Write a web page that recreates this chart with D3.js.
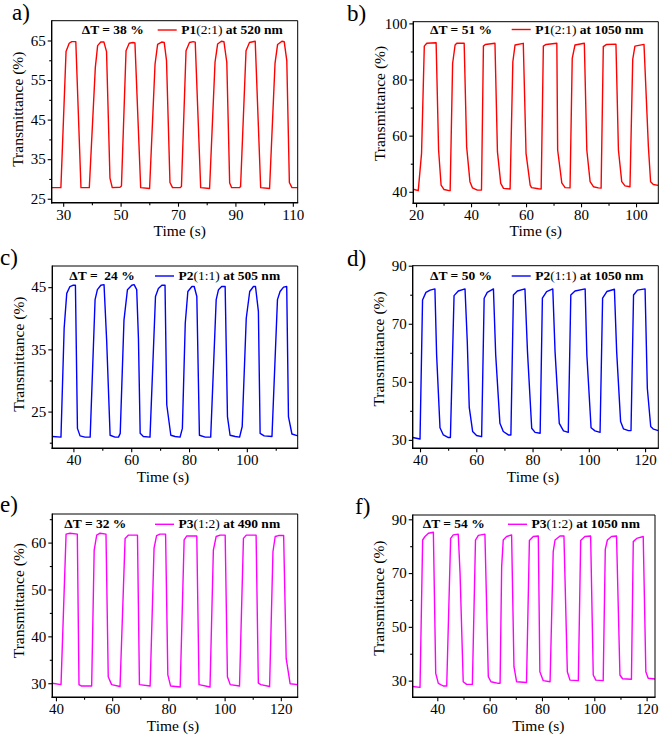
<!DOCTYPE html>
<html><head><meta charset="utf-8">
<script src="https://cdn.jsdelivr.net/npm/d3@7"></script>
<style>
body{margin:0;background:#fff}
svg{display:block}
svg text{font-family:"Liberation Serif","DejaVu Serif","Times New Roman",serif !important;fill:#000}
</style>
</head><body>
<svg id="chart" width="661" height="737"></svg>
<script>
// ---------- DATA (time s, transmittance %) ----------
const seriesA = [[26,27.8],[29.2,27.8],[31.0,62.2],[32.1,64.3],[33.0,64.7],[34.4,64.7],[36.2,27.8],[39.1,27.8],[41.2,58.2],[42.0,63.7],[43.1,64.6],[44.2,64.6],[45.1,62.2],[46.3,30.2],[47.1,27.8],[49.8,27.9],[50.3,28.2],[51.9,62.4],[53.0,64.3],[54.3,64.5],[55.0,64.4],[57.0,27.8],[60.1,27.6],[62.0,59.0],[62.9,64.0],[64.3,64.6],[65.2,64.5],[66.0,59.9],[67.2,29.1],[68.1,27.8],[70.7,27.8],[71.2,28.1],[72.8,62.4],[74.0,64.5],[75.3,64.7],[76.0,64.6],[77.9,27.8],[81.0,27.6],[82.9,59.5],[83.8,64.1],[85.1,64.8],[86.0,64.7],[87.0,59.5],[88.0,29.0],[88.7,27.8],[91.4,27.8],[91.8,28.1],[93.7,62.4],[94.9,64.5],[96.9,64.8],[98.8,27.8],[101.9,27.6],[103.8,59.2],[104.7,64.0],[106.2,64.8],[107.0,64.7],[107.9,59.9],[108.8,29.1],[109.7,27.8],[111.7,27.8]];
const seriesB = [[19,40.9],[20.8,40.4],[22.0,53.7],[23.0,91.9],[23.9,92.9],[27.3,93.1],[28.2,54.9],[29.1,42.4],[30.2,40.8],[32.0,40.4],[32.4,40.4],[33.3,85.7],[34.2,92.3],[34.8,92.9],[37.5,92.9],[38.4,56.0],[39.6,43.6],[40.5,41.4],[42.3,40.6],[43.8,40.6],[44.5,91.9],[45.2,92.5],[48.7,92.9],[49.6,54.3],[50.8,43.0],[51.8,41.2],[54.2,41.0],[55.2,86.3],[56.0,92.3],[59.0,92.9],[60.0,53.7],[61.5,42.4],[62.0,41.5],[64.5,41.1],[65.5,41.0],[66.3,91.9],[67.3,92.5],[71.2,92.9],[71.5,54.9],[73.0,43.2],[74.2,41.5],[76.0,41.4],[76.8,87.5],[77.8,92.3],[81.2,92.9],[82.1,54.9],[83.3,43.6],[84.5,41.8],[86.3,41.4],[87.3,41.3],[88.1,91.7],[89.3,92.5],[92.7,92.6],[93.6,54.9],[94.8,43.6],[96.0,42.1],[97.8,41.8],[98.8,87.2],[99.6,91.9],[102.9,92.5],[104.5,56.0],[105.3,43.6],[106.3,42.6],[108.1,42.3]];
const seriesC = [[32.7,21.0],[35.7,20.9],[36.8,38.4],[37.7,44.0],[38.8,45.1],[39.8,45.3],[40.7,45.3],[41.4,22.3],[42.3,21.1],[44.0,20.9],[45.8,20.9],[47.5,43.0],[48.3,44.6],[49.5,45.3],[50.6,45.4],[51.5,36.5],[52.7,21.2],[54.4,20.9],[55.6,20.9],[56.2,21.5],[57.5,39.7],[58.7,44.6],[60.2,45.3],[61.0,45.4],[61.9,44.6],[62.5,36.8],[63.1,21.5],[64.2,21.0],[66.5,20.9],[68.4,43.5],[69.4,44.8],[70.6,45.3],[71.7,45.3],[72.3,26.1],[73.7,21.2],[75.2,21.0],[76.9,20.9],[77.7,22.3],[78.7,39.2],[79.6,44.3],[81.0,45.1],[81.8,45.1],[82.7,43.5],[83.6,21.2],[85.6,20.9],[87.5,20.9],[89.4,43.0],[90.2,44.6],[91.3,45.1],[92.5,45.1],[93.3,24.2],[94.2,21.2],[96.0,21.0],[97.5,20.9],[98.4,22.6],[99.8,40.0],[101.0,44.3],[102.3,45.1],[103.0,45.1],[104.0,41.1],[104.6,21.5],[106.0,21.1],[108.7,21.0],[110.6,43.0],[111.5,44.3],[112.7,45.0],[113.8,45.1],[114.4,24.2],[115.6,21.4],[117.7,21.1]];
const seriesD = [[37.4,30.8],[40.0,30.3],[40.9,78.2],[42.1,80.8],[43.6,81.6],[45.3,82.0],[45.9,59.3],[47.1,34.2],[48.3,31.7],[50.1,30.8],[50.8,30.8],[52.1,79.7],[53.6,81.3],[56.0,82.0],[56.8,63.8],[57.5,41.2],[58.7,32.9],[60.1,31.5],[61.9,31.1],[62.8,78.8],[63.9,80.8],[66.1,82.0],[66.9,59.3],[68.4,35.7],[69.6,32.9],[71.4,31.7],[72.3,31.7],[73.2,79.9],[74.6,81.3],[77.3,82.0],[78.2,60.4],[79.7,34.0],[80.9,32.6],[82.7,32.3],[83.5,78.8],[85.0,81.1],[87.2,82.0],[88.0,60.4],[89.5,35.7],[91.0,33.1],[92.7,32.6],[93.6,79.9],[95.1,81.3],[98.7,82.0],[99.3,59.3],[100.8,34.2],[102.2,33.1],[104.0,32.6],[104.9,78.8],[106.4,81.1],[109.1,81.9],[109.9,60.4],[111.3,36.3],[112.3,33.8],[114.1,33.2],[115.0,33.2],[115.9,79.9],[117.3,81.6],[120.0,82.0],[120.8,47.8],[122.0,34.6],[123.0,33.7],[124.7,33.2]];
const seriesE = [[38.7,30.0],[41.8,29.7],[43.6,61.8],[45.0,62.0],[47.6,61.8],[48.2,29.7],[49.1,29.4],[52.7,29.4],[53.6,58.4],[54.5,61.6],[55.7,62.0],[57.8,61.8],[58.6,31.4],[59.8,29.7],[62.8,29.3],[64.6,60.9],[65.8,61.6],[69.0,61.6],[69.7,29.7],[73.5,29.4],[74.9,58.8],[75.8,61.5],[77.0,61.8],[79.0,61.8],[79.8,31.8],[80.8,29.4],[84.2,29.2],[85.6,60.6],[86.5,61.4],[90.1,61.4],[90.9,29.7],[94.8,29.2],[96.0,58.4],[97.0,61.3],[98.4,61.6],[100.2,61.6],[101.0,31.4],[102.0,29.7],[105.3,29.4],[106.7,60.9],[107.7,61.6],[111.2,61.6],[112.0,30.0],[112.9,29.7],[116.0,29.3],[117.2,58.1],[118.0,61.3],[119.2,61.5],[121.0,61.5],[121.9,35.3],[123.3,29.9],[126.0,29.7]];
const seriesF = [[30.6,27.8],[33.4,27.5],[34.4,82.3],[35.3,83.6],[36.6,84.8],[38.5,85.2],[39.4,32.7],[40.4,29.0],[42.3,28.0],[43.6,28.0],[45.1,82.9],[46.1,84.2],[48.0,84.5],[48.7,69.9],[49.9,29.6],[51.2,28.6],[53.4,28.6],[54.6,82.3],[55.7,84.0],[58.2,84.5],[59.5,31.5],[60.5,29.6],[63.3,29.0],[64.0,29.0],[64.6,72.4],[65.2,82.3],[66.5,83.6],[68.4,84.2],[69.3,35.2],[70.3,29.6],[74.1,29.3],[75.2,82.1],[76.7,83.6],[78.6,83.8],[79.2,33.3],[80.5,30.0],[83.1,29.6],[84.3,78.0],[85.0,82.3],[86.9,83.8],[88.4,83.8],[89.7,33.3],[90.7,30.2],[93.9,30.0],[94.8,82.1],[96.4,83.6],[98.6,83.8],[99.6,32.1],[100.6,30.2],[103.4,30.0],[104.2,78.8],[105.0,82.3],[106.6,83.6],[108.5,83.8],[109.8,32.1],[110.8,30.7],[114.2,30.5],[114.9,81.7],[116.2,82.9],[118.7,83.6],[119.7,33.3],[120.6,30.9],[123.2,30.6]];

const panelLetters = ["a)","b)","c)","d)","e)","f)"];
const deltaLabels = ["ΔT = 38 %","ΔT = 51 %","ΔT =  24 %","ΔT = 50 %","ΔT = 32 %","ΔT = 54 %"];
const sampleNames = [["P1","(2:1)"," at 520 nm"],["P1","(2:1)"," at 1050 nm"],["P2","(1:1)"," at 505 nm"],["P2","(1:1)"," at 1050 nm"],["P3","(1:2)"," at 490 nm"],["P3","(1:2)"," at 1050 nm"]];

const xTicksA = [30,50,70,90,110],   xMinorA = [40,60,80,100];
const yTicksA = [25,35,45,55,65],    yMinorA = [30,40,50,60];
const xTicksB = [20,40,60,80,100],   xMinorB = [30,50,70,90];
const yTicksB = [40,60,80,100],      yMinorB = [50,70,90];
const xTicksC = [40,60,80,100],      xMinorC = [50,70,90,110];
const yTicksC = [25,35,45],          yMinorC = [20,30,40];
const xTicksD = [40,60,80,100,120],  xMinorD = [50,70,90,110];
const yTicksD = [30,50,70,90],       yMinorD = [40,60,80];
const xTicksE = [40,60,80,100,120],  xMinorE = [50,70,90,110];
const yTicksE = [30,40,50,60],       yMinorE = [35,45,55,65];
const xTicksF = [40,60,80,100,120],  xMinorF = [50,70,90,110];
const yTicksF = [30,50,70,90],       yMinorF = [40,60,80];

const xDomains = [[26,111.7],[19,108.1],[32.7,117.6],[37.4,124.7],[38.7,126],[30.6,123.2]];
const yDomains = [[24,70],[35.9,100.6],[19.1,48.4],[27.1,90],[27,66.1],[23.8,91.6]];
const colors = ["#ff0000","#ff0000","#0000ff","#0000ff","#ff00ff","#ff00ff"];

// ---------- LAYOUT ----------
// box: [left, top, right, bottom]; title: [x offset from centre, baseline below bottom]; ylab: vertical shift
const panels = [
  {data:seriesA, box:[51.7,20.7,297.7,202.7], xt:xTicksA, xm:xMinorA, yt:yTicksA, ym:yMinorA, letter:[12,20], leg:[30,13.3,106], title:[5,33], ylab:-2.5},
  {data:seriesB, box:[413.3,21.7,658.3,203.3], xt:xTicksB, xm:xMinorB, yt:yTicksB, ym:yMinorB, letter:[347,21], leg:[16.7,11.8,98.4], title:[0,33], ylab:-9},
  {data:seriesC, box:[52.3,266,297.7,448.3], xt:xTicksC, xm:xMinorC, yt:yTicksC, ym:yMinorC, letter:[0,265], leg:[17,14,102.7], title:[-12,34], ylab:-3},
  {data:seriesD, box:[412.7,265.7,658.3,448.3], xt:xTicksD, xm:xMinorD, yt:yTicksD, ym:yMinorD, letter:[347,266], leg:[17.3,14.3,99], title:[-2.5,34], ylab:-8},
  {data:seriesE, box:[52.3,514,297.7,697.3], xt:xTicksE, xm:xMinorE, yt:yTicksE, ym:yMinorE, letter:[0,512], leg:[12,14.3,102.7], title:[-2,34], ylab:-5},
  {data:seriesF, box:[412.7,515,655,697.3], xt:xTicksF, xm:xMinorF, yt:yTicksF, ym:yMinorF, letter:[355,514], leg:[10,13.3,95.3], title:[4.5,34], ylab:-8}
];

const FONT = "'Liberation Serif','DejaVu Serif','Times New Roman',serif";
const svg = d3.select("#chart");

panels.forEach((p, i) => {
  const [L, T, R, B] = p.box;
  const x = d3.scaleLinear().domain(xDomains[i]).range([L, R]);
  const y = d3.scaleLinear().domain(yDomains[i]).range([B, T]);
  const g = svg.append("g").style("font-family", FONT);

  const cid = "clip" + i;
  g.append("clipPath").attr("id", cid).append("rect")
    .attr("x", L).attr("y", T).attr("width", R - L).attr("height", B - T);

  g.append("path").datum(p.data)
    .attr("clip-path", `url(#${cid})`)
    .attr("fill", "none").attr("stroke", colors[i]).attr("stroke-width", 1.4)
    .attr("stroke-linejoin", "round")
    .attr("d", d3.line().x(d => x(d[0])).y(d => y(d[1])));

  const styleAxis = sel => {
    sel.attr("font-family", null).style("font-family", FONT);
    sel.select(".domain").remove();
    sel.selectAll("line").attr("stroke", "#000").attr("stroke-width", 1.1);
    sel.selectAll("text").style("font-family", FONT).style("font-size", "15px").attr("fill", "#000");
  };
  g.append("g").attr("transform", `translate(0,${B})`)
    .call(d3.axisBottom(x).tickValues(p.xt).tickSize(4).tickSizeOuter(0).tickPadding(2.5)).call(styleAxis);
  g.append("g").attr("transform", `translate(0,${B})`)
    .call(d3.axisBottom(x).tickValues(p.xm).tickSize(2.5).tickSizeOuter(0).tickFormat("")).call(styleAxis);
  g.append("g").attr("transform", `translate(${L},0)`)
    .call(d3.axisLeft(y).tickValues(p.yt).tickSize(4).tickSizeOuter(0).tickPadding(2)).call(styleAxis);
  g.append("g").attr("transform", `translate(${L},0)`)
    .call(d3.axisLeft(y).tickValues(p.ym).tickSize(2.5).tickSizeOuter(0).tickFormat("")).call(styleAxis);

  g.append("line").attr("x1", L).attr("x2", R).attr("y1", T).attr("y2", T).attr("stroke", "#000").attr("stroke-width", 1);
  g.append("line").attr("x1", R).attr("x2", R).attr("y1", T).attr("y2", B).attr("stroke", "#000").attr("stroke-width", 1);
  g.append("line").attr("x1", L).attr("x2", L).attr("y1", T - 0.5).attr("y2", B + 0.7).attr("stroke", "#000").attr("stroke-width", 1.4);
  g.append("line").attr("x1", L - 0.7).attr("x2", R + 0.5).attr("y1", B).attr("y2", B).attr("stroke", "#000").attr("stroke-width", 1.4);

  g.append("text").attr("x", (L + R) / 2 + p.title[0]).attr("y", B + p.title[1]).attr("text-anchor", "middle")
    .style("font-size", "15.5px").text("Time (s)");
  g.append("text").attr("transform", `translate(${L - 28.5},${(T + B) / 2 + p.ylab}) rotate(-90)`)
    .attr("text-anchor", "middle").style("font-size", "15.5px").text("Transmittance (%)");

  g.append("text").attr("x", p.letter[0]).attr("y", p.letter[1]).style("font-size", "23px").text(panelLetters[i]);

  const [dx, dy, lx] = p.leg;
  g.append("text").attr("x", L + dx).attr("y", T + dy).style("font-size", "13.5px").style("font-weight", "bold")
    .style("white-space", "pre").text(deltaLabels[i]);
  g.append("line").attr("x1", L + lx).attr("x2", L + lx + 19).attr("y1", T + dy - 4).attr("y2", T + dy - 4)
    .attr("stroke", colors[i]).attr("stroke-width", 1.4);
  const nm = g.append("text").attr("x", L + lx + 23.5).attr("y", T + dy).style("font-size", "13.5px").style("white-space", "pre");
  nm.append("tspan").style("font-weight", "bold").text(sampleNames[i][0]);
  nm.append("tspan").style("font-weight", "normal").text(sampleNames[i][1]);
  nm.append("tspan").style("font-weight", "bold").text(sampleNames[i][2]);
});
</script>
</body></html>
